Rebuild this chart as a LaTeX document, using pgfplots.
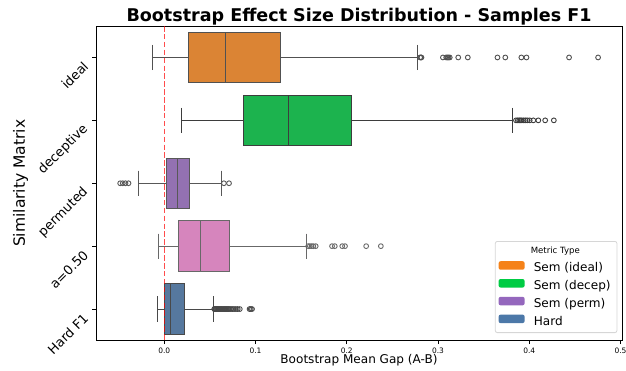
\documentclass[border=0pt]{standalone}
\usepackage{fontspec}
\setmainfont{DejaVu Sans}
\usepackage{pgfplots}
\pgfplotsset{compat=1.18}
\usepgfplotslibrary{statistics}

\definecolor{fIdeal}{RGB}{219,132,52}
\definecolor{fDecep}{RGB}{28,179,78}
\definecolor{fPerm}{RGB}{147,113,178}
\definecolor{fHalf}{RGB}{214,133,189}
\definecolor{fHard}{RGB}{86,120,158}
\definecolor{lIdeal}{RGB}{245,130,25}
\definecolor{lDecep}{RGB}{0,204,68}
\definecolor{lPerm}{RGB}{148,103,189}
\definecolor{lHard}{RGB}{76,120,168}
\definecolor{eIdeal}{RGB}{81,81,81}
\definecolor{eDecep}{RGB}{61,61,61}
\definecolor{ePerm}{RGB}{88,88,88}
\definecolor{eHalf}{RGB}{104,104,104}
\definecolor{eHard}{RGB}{73,73,73}
\definecolor{legedge}{RGB}{214,214,214}

\begin{document}
\begin{tikzpicture}
\useasboundingbox (0,0) rectangle (626bp,371bp);
\begin{axis}[
  at={(96bp,30.5bp)}, anchor=south west,
  scale only axis, width=526bp, height=314.5bp,
  xmin=-0.0748, xmax=0.5017,
  ymin=-0.5, ymax=4.5, y dir=reverse,
  xtick={0,0.1,0.2,0.3,0.4,0.5},
  xticklabels={0.0,0.1,0.2,0.3,0.4,0.5},
  ytick={0,1,2,3,4},
  yticklabels={ideal,deceptive,permuted,a=0.50,Hard F1},
  tick align=outside, major tick length=3.5bp,
  tick style={black, line width=0.8bp},
  xtick pos=left, ytick pos=left,
  axis line style={line width=0.8bp},
  xticklabel style={font=\fontsize{7.5}{9}\selectfont},
  yticklabel style={font=\fontsize{13}{15}\selectfont, rotate=45, anchor=east, xshift=-6bp},
  title={Bootstrap Effect Size Distribution - Samples F1},
  title style={font=\fontsize{17.6}{20}\selectfont\bfseries, at={(axis description cs:0.5,1.0137)}, anchor=base, yshift=-6pt},
  xlabel={Bootstrap Mean Gap (A-B)},
  xlabel style={font=\fontsize{12.1}{14}\selectfont, at={(axis description cs:0.5,-0.0747)}, anchor=base},
  ylabel={Similarity Matrix},
  ylabel style={font=\fontsize{15.6}{18}\selectfont, at={(axis description cs:-0.135,0.5)}, anchor=base, rotate=0},
  legend style={at={(0.9911,0.0238)}, anchor=south east, draw=legedge, line width=0.8bp,
    rounded corners=2bp, fill=white, font=\fontsize{12.1}{14}\selectfont,
    inner xsep=3.3bp, inner ysep=3bp, row sep=2.8bp, column sep=9.2bp,
    nodes={inner sep=0bp, text height=9.5bp, text depth=4.5bp}},
  legend cell align=left,
  legend image code/.code={\fill[#1] (0bp,-0.5bp) rectangle (26bp,8bp);},
]
\addlegendimage{empty legend}
\addlegendentry{\hspace*{-3bp}{\fontsize{8.6}{10}\selectfont Metric Type}}
\addlegendimage{fill=lIdeal, draw=none}
\addlegendentry{Sem (ideal)}
\addlegendimage{fill=lDecep, draw=none}
\addlegendentry{Sem (decep)\hspace*{3bp}}
\addlegendimage{fill=lPerm, draw=none}
\addlegendentry{Sem (perm)}
\addlegendimage{fill=lHard, draw=none}
\addlegendentry{Hard}

% ideal
\addplot[forget plot, fill=fIdeal, draw=eIdeal, line width=1bp,
  boxplot prepared={draw direction=x, draw position=0, box extend=0.8, whisker extend=0.4,
    lower whisker=-0.0131, lower quartile=0.0269, median=0.0673,
    upper quartile=0.1279, upper whisker=0.2778}] coordinates {};
\addplot[forget plot, only marks, mark=o, mark size=2.4bp, draw=eIdeal, mark options={line width=0.9bp}]
  coordinates {(0.2804,0) (0.2812,0) (0.2819,0) (0.3054,0) (0.3090,0) (0.3103,0) (0.3115,0) (0.3129,0)
   (0.3222,0) (0.3327,0) (0.3652,0) (0.3738,0) (0.3914,0) (0.3970,0) (0.4437,0) (0.4755,0)};
% deceptive
\addplot[forget plot, fill=fDecep, draw=eDecep, line width=1bp,
  boxplot prepared={draw direction=x, draw position=1, box extend=0.8, whisker extend=0.4,
    lower whisker=0.0194, lower quartile=0.0871, median=0.1361,
    upper quartile=0.2052, upper whisker=0.3821}] coordinates {};
\addplot[forget plot, only marks, mark=o, mark size=2.4bp, draw=eDecep, mark options={line width=0.9bp}]
  coordinates {(0.3855,1) (0.3875,1) (0.3890,1) (0.3905,1) (0.3920,1) (0.3940,1) (0.3960,1)
   (0.3980,1) (0.4005,1) (0.4045,1) (0.4100,1) (0.4175,1) (0.4270,1)};
% permuted
\addplot[forget plot, fill=fPerm, draw=ePerm, line width=1bp,
  boxplot prepared={draw direction=x, draw position=2, box extend=0.8, whisker extend=0.4,
    lower whisker=-0.0280, lower quartile=0.0030, median=0.0146,
    upper quartile=0.0277, upper whisker=0.0628}] coordinates {};
\addplot[forget plot, only marks, mark=o, mark size=2.4bp, draw=ePerm, mark options={line width=0.9bp}]
  coordinates {(-0.0483,2) (-0.0455,2) (-0.0425,2) (-0.0392,2) (0.0654,2) (0.0710,2)};
% a=0.50
\addplot[forget plot, fill=fHalf, draw=eHalf, line width=1bp,
  boxplot prepared={draw direction=x, draw position=3, box extend=0.8, whisker extend=0.4,
    lower whisker=-0.0060, lower quartile=0.0153, median=0.0393,
    upper quartile=0.0718, upper whisker=0.1563}] coordinates {};
\addplot[forget plot, only marks, mark=o, mark size=2.4bp, draw=eHalf, mark options={line width=0.9bp}]
  coordinates {(0.1578,3) (0.1596,3) (0.1615,3) (0.1634,3) (0.1660,3) (0.1839,3) (0.1869,3)
   (0.1951,3) (0.1981,3) (0.2213,3) (0.2374,3)};
% Hard F1
\addplot[forget plot, fill=fHard, draw=eHard, line width=1bp,
  boxplot prepared={draw direction=x, draw position=4, box extend=0.8, whisker extend=0.4,
    lower whisker=-0.0075, lower quartile=0.0000, median=0.0064,
    upper quartile=0.0221, upper whisker=0.0538}] coordinates {};
\addplot[forget plot, only marks, mark=o, mark size=2.4bp, draw=eHard, mark options={line width=0.9bp}]
  coordinates {(0.0548,4) (0.0556,4) (0.0564,4) (0.0572,4) (0.0580,4) (0.0588,4) (0.0596,4)
   (0.0605,4) (0.0614,4) (0.0623,4) (0.0632,4) (0.0642,4) (0.0652,4) (0.0662,4) (0.0672,4)
   (0.0683,4) (0.0694,4) (0.0706,4) (0.0718,4) (0.0732,4) (0.0748,4) (0.0765,4) (0.0785,4)
   (0.0805,4) (0.0828,4) (0.0935,4) (0.0948,4) (0.0962,4)};
% zero line
\addplot[forget plot, color=red, opacity=0.7, dash pattern=on 5.5bp off 2.4bp, line width=1.2bp]
  coordinates {(0,-0.5) (0,4.5)};
\end{axis}
\end{tikzpicture}
\end{document}
